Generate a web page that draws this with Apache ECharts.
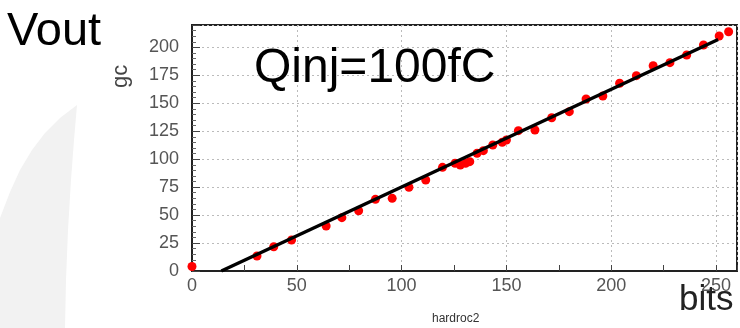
<!DOCTYPE html>
<html>
<head>
<meta charset="utf-8">
<script src="https://cdn.jsdelivr.net/npm/echarts@6/dist/echarts.min.js"></script>
<style>html,body{margin:0;padding:0;background:#fff;}#c{width:740px;height:328px;}</style>
</head>
<body>
<div id="c"></div>
<script>
// Measured points (bits -> Vout)
var xVals = [0, 31, 39, 47.5, 64, 71.5, 79.5, 87.5, 95.5, 103.5, 111.5, 119.5, 125.5, 128, 130.5, 132.5, 136, 139, 143.5, 148, 150, 155.7, 163.6, 171.6, 180, 188, 196, 204, 212, 220, 228, 236, 244, 251.5, 256];
var yVals = [4, 13.4, 21.7, 27.7, 40.2, 47.7, 53.9, 64.1, 65, 74.9, 81.4, 92.7, 96.3, 94.8, 96.3, 97.8, 105.3, 107.6, 112.7, 115.1, 117.2, 125.5, 126.1, 137.1, 142.5, 153.8, 156.5, 167.9, 174.7, 183.6, 186.3, 193.2, 202.1, 210.2, 214];
// Linear fit endpoints
var fitX = [14, 251];
var fitY = [0, 207];
// Texts
var titleText = 'Vout';
var annoText = 'Qinj=100fC';
var xName = 'bits';
var yName = 'gc';
var footText = 'hardroc2';

var pts = xVals.map(function (x, i) { return [x, yVals[i]]; });
var fit = fitX.map(function (x, i) { return [x, fitY[i]]; });

var chart = echarts.init(document.getElementById('c'), null, {renderer: 'canvas'});
var font = 'Liberation Sans, Arial, sans-serif';
chart.setOption({
  animation: false,
  backgroundColor: '#fff',
  grid: {left: 192, right: 3, top: 25, bottom: 57, show: true, borderColor: '#222', borderWidth: 2, backgroundColor: 'transparent'},
  xAxis: {
    type: 'value', min: 0, max: 260, interval: 50,
    axisLine: {show: true, onZero: false, lineStyle: {color: '#222', width: 2}},
    axisTick: {show: true, inside: true, length: 6, lineStyle: {color: '#444'}},
    minorTick: {show: true, splitNumber: 2, length: 6, lineStyle: {color: '#444'}},
    axisLabel: {color: '#555', fontSize: 18, fontFamily: font, margin: 6, showMaxLabel: false},
    splitLine: {show: true, lineStyle: {color: '#bbb', type: [2, 3], width: 1}}
  },
  yAxis: {
    type: 'value', min: 0, max: 220, interval: 25,
    axisLine: {show: true, onZero: false, lineStyle: {color: '#222', width: 2}},
    axisTick: {show: true, inside: true, length: 8, lineStyle: {color: '#444'}},
    minorTick: {show: true, splitNumber: 5, length: 4, lineStyle: {color: '#666'}},
    axisLabel: {color: '#555', fontSize: 18, fontFamily: font, margin: 13, showMaxLabel: false},
    splitLine: {show: true, lineStyle: {color: '#bbb', type: [2, 3], width: 1}}
  },
  graphic: [
    {type: 'polygon', z: -10, silent: true,
     shape: {points: [[77,105],[60,118],[45,133],[32,150],[20,170],[10,192],[0,218],[0,328],[65,328],[66,280],[68,230],[71,180],[74,140]]},
     style: {fill: '#f2f2f2'}},
    {type: 'text', left: 7, top: 9, style: {text: titleText, fontSize: 47, fontFamily: font, fill: '#000'}},
    {type: 'text', left: 254, top: 45, z: 10, style: {text: annoText, fontSize: 48, fontFamily: font, fill: '#000'}},
    {type: 'text', left: 679, top: 283, style: {text: xName, fontSize: 35, fontFamily: font, fill: '#222'}},
    {type: 'text', left: 432, top: 313, style: {text: footText, fontSize: 12, fontFamily: font, fill: '#333'}},
    {type: 'text', x: 110, y: 88, rotation: Math.PI / 2, style: {text: yName, fontSize: 22, fontFamily: font, fill: '#444'}}
  ],
  series: [
    {type: 'scatter', data: pts, symbol: 'circle', symbolSize: 9, itemStyle: {color: '#ff0000', opacity: 1}, z: 2},
    {type: 'line', data: fit, symbol: 'none', lineStyle: {color: '#000', width: 3.5}, z: 3}
  ]
});
</script>
</body>
</html>
